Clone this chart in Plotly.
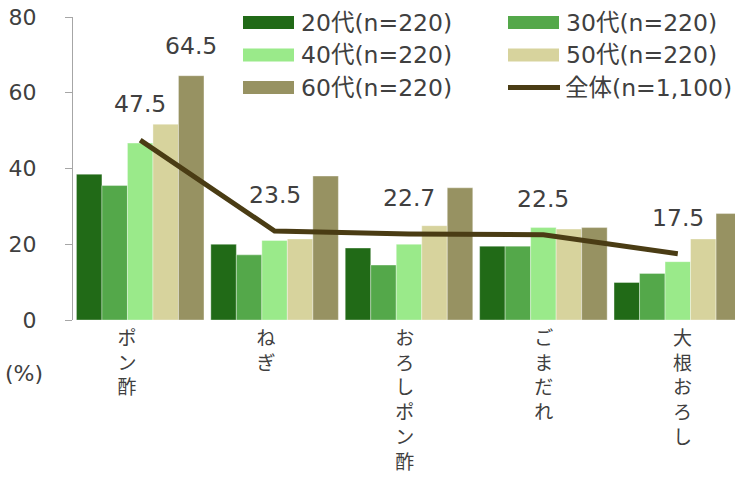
import plotly.graph_objects as go

categories = ["ポン酢", "ねぎ", "おろしポン酢", "ごまだれ", "大根おろし"]
series_names = ["20代(n=220)", "30代(n=220)", "40代(n=220)", "50代(n=220)", "60代(n=220)"]
v20 = [38.5, 20.0, 19.0, 19.5, 9.9]
v30 = [35.5, 17.2, 14.5, 19.5, 12.3]
v40 = [46.7, 21.0, 20.0, 24.4, 15.4]
v50 = [51.7, 21.4, 24.9, 24.0, 21.4]
v60 = [64.5, 38.0, 34.9, 24.4, 28.1]
total_name = "全体(n=1,100)"
total = [47.5, 23.5, 22.7, 22.5, 17.5]
yticks = [0, 20, 40, 60, 80]
unit_label = "(%)"

colors = ["#216a17", "#54a84a", "#9aea8a", "#d7d39d", "#979262"]
line_color = "#4a3c14"
text_color = "#404040"
num_font = "DejaVu Sans, Noto Sans CJK JP"
jp_font = "Noto Sans CJK JP, DejaVu Sans"

W, H = 735, 484
ML, MR, MT, MB = 73, 0, 17, 164
plot_w = W - ML - MR
plot_h = H - MT - MB
cat_px = 134.4
x_range = [-0.5, -0.5 + plot_w / cat_px]
# category labels sit on a slightly wider pitch than the bar groups
lab_first, lab_pitch = 127.0, 138.9
LBL = 23.5

xpos = list(range(len(categories)))
label_pos = [(lab_first + lab_pitch * i - ML) / cat_px - 0.5 for i in xpos]


def px2paper(px, py):
    return (px - ML) / plot_w, (MT + plot_h - py) / plot_h


fig = go.Figure()
all_vals = [v20, v30, v40, v50, v60]
for name, vals, col in zip(series_names, all_vals, colors):
    fig.add_trace(go.Bar(
        x=xpos, y=vals, name=name, customdata=categories,
        marker=dict(color=col, line=dict(color="rgba(255,255,255,0.6)", width=0.6)),
        showlegend=False,
    ))

fig.add_trace(go.Scatter(
    x=xpos, y=total, name=total_name, mode="lines", customdata=categories,
    line=dict(color=line_color, width=5),
    showlegend=False,
))

annotations = []
for xi, v in zip(xpos, total):
    annotations.append(dict(
        x=xi, y=v, xref="x", yref="y", text=f"{v}", showarrow=False,
        yshift=36, font=dict(size=LBL, color=text_color, family=num_font),
    ))
bar_w_px = cat_px * (1 - 0.051) / 5
annotations.append(dict(
    x=xpos[0], y=v60[0], xref="x", yref="y", text=f"{v60[0]}", showarrow=False,
    xshift=2 * bar_w_px, yshift=30, font=dict(size=LBL, color=text_color, family=num_font),
))
ux, uy = px2paper(24, 373)
annotations.append(dict(
    x=ux, y=uy, xref="paper", yref="paper",
    text=unit_label, showarrow=False, xanchor="center", yanchor="middle",
    font=dict(size=22, color=text_color, family=num_font),
))

shapes = []
legend_items = [
    (series_names[0], colors[0], "bar", 243, 22.5),
    (series_names[1], colors[1], "bar", 508, 22.5),
    (series_names[2], colors[2], "bar", 243, 55),
    (series_names[3], colors[3], "bar", 508, 55),
    (series_names[4], colors[4], "bar", 243, 87.5),
    (total_name, line_color, "line", 506, 87.5),
]
for name, col, kind, sx, sy in legend_items:
    if kind == "bar":
        x0, y0 = px2paper(sx, sy + 6.5)
        x1, y1 = px2paper(sx + 51, sy - 6.5)
        shapes.append(dict(type="rect", xref="paper", yref="paper", x0=x0, x1=x1, y0=y0, y1=y1,
                           fillcolor=col, line=dict(width=0)))
        tx = sx + 56
    else:
        x0, y0 = px2paper(sx + 2, sy)
        x1, _ = px2paper(sx + 54, sy)
        shapes.append(dict(type="line", xref="paper", yref="paper", x0=x0, x1=x1, y0=y0, y1=y0,
                           line=dict(color=col, width=5)))
        tx = sx + 57
    px_, py_ = px2paper(tx, sy)
    annotations.append(dict(
        x=px_, y=py_, xref="paper", yref="paper", text=name, showarrow=False,
        xanchor="left", yanchor="middle",
        font=dict(size=LBL, color=text_color, family=num_font),
    ))

fig.update_layout(
    width=W, height=H,
    margin=dict(l=ML, r=MR, t=MT, b=MB, pad=0, autoexpand=False),
    paper_bgcolor="white", plot_bgcolor="white",
    barmode="group", bargap=0.051, bargroupgap=0,
    showlegend=False,
    annotations=annotations,
    shapes=shapes,
    xaxis=dict(
        type="linear", range=x_range,
        tickmode="array", tickvals=label_pos,
        ticktext=["<br>".join(list(c)) for c in categories],
        tickfont=dict(size=19, color=text_color, family=jp_font),
        showline=False, ticks="", showgrid=False, zeroline=False,
        automargin=False, ticklabelstandoff=5, ticklabeloverflow="allow",
    ),
    yaxis=dict(
        range=[0, 80], tickvals=yticks, ticks="outside", ticklen=7,
        tickcolor="#a6a6a6", showline=True, linecolor="#a6a6a6", linewidth=1,
        showgrid=False, zeroline=False,
        tickfont=dict(size=22, color=text_color, family=num_font),
        ticklabelstandoff=24, automargin=False, ticklabeloverflow="allow",
    ),
)

fig.write_html(
    "out.html",
    config={"displayModeBar": False},
    post_script="document.body.style.margin='0';document.body.style.overflow='hidden';",
)
